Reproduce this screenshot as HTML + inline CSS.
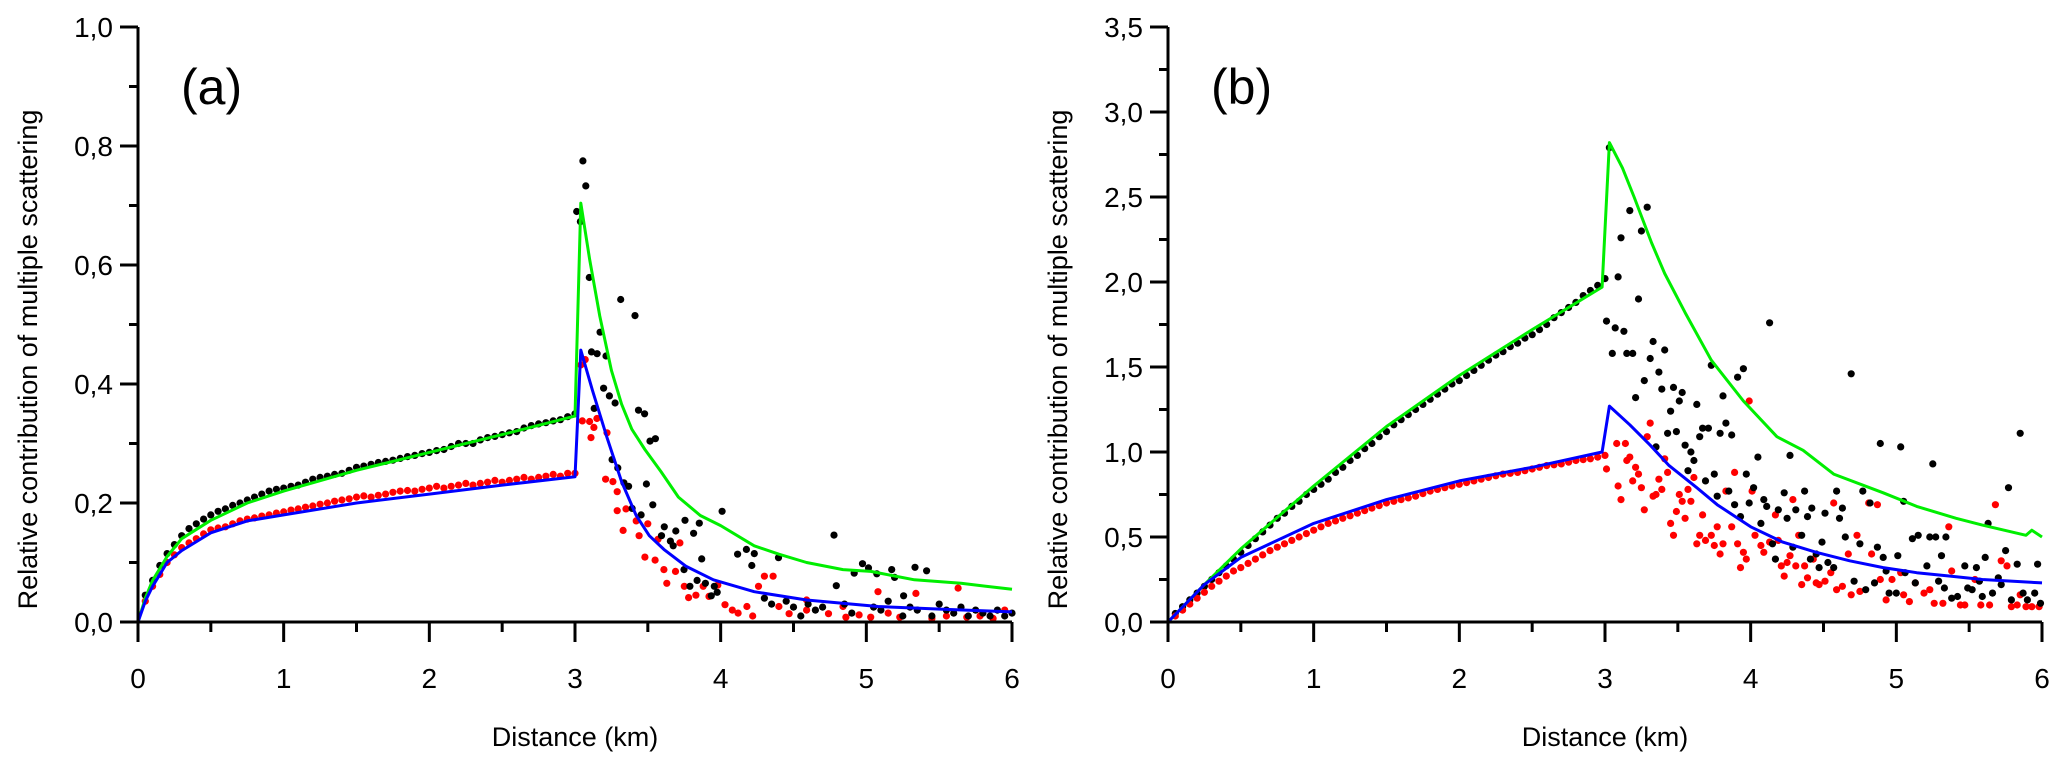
<!DOCTYPE html>
<html><head><meta charset="utf-8"><style>
html,body{margin:0;padding:0;background:#fff;}
svg{display:block;font-family:"Liberation Sans",Arial,sans-serif;}
</style></head><body>
<svg id="chart" width="2067" height="771" viewBox="0 0 2067 771"></svg>
<script>
// ---------- data ----------
const preX = [0.1,0.2,0.3,0.4,0.5,0.6,0.7,0.8,0.9,1.0,1.1,1.2,1.3,1.4,1.5,1.6,1.7,1.8,1.9,2.0,2.1,2.2,2.3,2.4,2.5,2.6,2.7,2.8,2.9,3.0];
const preX2 = [0.05,0.15,0.25,0.35,0.45,0.55,0.65,0.75,0.85,0.95,1.05,1.15,1.25,1.35,1.45,1.55,1.65,1.75,1.85,1.95,2.05,2.15,2.25,2.35,2.45,2.55,2.65,2.75,2.85,2.95];

const aBlackPre = [.07,.115,.145,.165,.18,.19,.2,.21,.22,.225,.23,.24,.245,.25,.26,.265,.27,.275,.28,.285,.29,.3,.3,.31,.315,.32,.33,.335,.34,.35];
const aBlackPre2 = [.045,.095,.13,.157,.173,.186,.196,.205,.215,.223,.228,.235,.243,.248,.255,.262,.268,.272,.278,.283,.288,.295,.3,.306,.312,.318,.326,.333,.338,.345];
const aRedPre = [.06,.1,.125,.14,.155,.16,.17,.175,.18,.185,.19,.195,.2,.205,.21,.21,.215,.22,.22,.225,.225,.23,.23,.235,.235,.24,.24,.245,.245,.25];
const aRedPre2 = [.035,.08,.113,.133,.148,.158,.165,.173,.178,.183,.188,.193,.198,.203,.207,.212,.213,.218,.221,.223,.228,.228,.233,.233,.238,.238,.243,.243,.248,.25];
const aBlackPostX = [3.054,3.074,3.012,3.037,3.098,3.314,3.412,3.172,3.113,3.152,3.213,3.196,3.236,3.275,3.132,3.436,3.478,3.552,3.515,3.255,3.294,3.336,3.368,3.49,3.534,3.392,3.454,3.755,3.853,4.01,4.778,3.613,3.692,3.814,3.594,3.655,3.674,4.231,4.116,3.87,4.397,4.177,4.214,5.015,5.194,5.414,4.917,4.794,5.174,5.334,4.974,5.072,5.256,3.748,3.789,3.838,3.895,3.956,3.976,3.936,
  4.3,4.35,4.45,4.5,4.6,4.65,4.7,4.85,4.9,5.1,5.15,5.3,5.45,5.5,5.55,5.6,5.65,5.7,5.75,5.8,5.85,5.9,5.95,6.0,4.55,5.05,5.25,5.35];
const aBlackPostY = [.775,.733,.69,.673,.579,.542,.515,.487,.454,.451,.447,.393,.38,.368,.359,.356,.35,.308,.304,.273,.259,.234,.228,.232,.197,.191,.18,.171,.166,.186,.146,.16,.153,.149,.145,.136,.128,.115,.114,.106,.108,.122,.095,.091,.075,.086,.082,.061,.088,.092,.098,.081,.044,.088,.06,.07,.065,.06,.05,.044,
  .04,.03,.035,.025,.03,.02,.025,.03,.015,.02,.035,.025,.01,.03,.02,.015,.025,.01,.02,.015,.01,.02,.01,.015,.01,.025,.01,.02];
const aRedPostX = [3.04,3.07,3.05,3.10,3.15,3.11,3.13,3.22,3.21,3.26,3.29,3.29,3.35,3.33,3.42,3.44,3.48,3.50,3.55,3.57,3.61,3.63,3.69,3.72,3.75,3.78,3.83,3.88,3.92,3.98,4.03,4.08,4.18,4.26,4.30,4.36,4.40,4.47,4.59,4.74,4.86,5.08,5.34,5.63,5.03,5.23,5.45,5.69,5.87,5.95,4.59,4.84,4.12,4.22,4.95,5.15,5.55,5.78];
const aRedPostY = [.432,.441,.338,.337,.342,.31,.327,.318,.24,.236,.219,.187,.19,.154,.17,.145,.109,.165,.104,.139,.088,.065,.085,.133,.06,.041,.045,.06,.043,.062,.029,.02,.026,.06,.077,.077,.026,.014,.02,.014,.008,.051,.048,.057,.008,.008,.006,.008,.006,.02,.037,.026,.015,.01,.012,.015,.01,.01];
const aGreenX = [0,0.05,0.1,0.2,0.3,0.5,0.75,1,1.5,2,2.5,3,3.04,3.10,3.17,3.25,3.32,3.39,3.48,3.59,3.71,3.86,4.0,4.23,4.40,4.59,4.84,5.03,5.33,5.65,5.82,6.0];
const aGreenY = [0,0.04,0.07,0.11,0.14,0.171,0.2,0.22,0.255,0.285,0.315,0.346,0.704,0.61,0.514,0.423,0.366,0.324,0.29,0.253,0.21,0.179,0.162,0.128,0.114,0.10,0.088,0.085,0.071,0.065,0.06,0.055];
const aBlueX = [0,0.05,0.1,0.2,0.3,0.5,0.75,1,1.5,2,2.5,3,3.04,3.12,3.22,3.32,3.42,3.51,3.61,3.76,3.95,4.23,4.59,5.08,5.57,6.0];
const aBlueY = [0,0.035,0.06,0.1,0.12,0.15,0.17,0.18,0.2,0.215,0.23,0.244,0.457,0.389,0.31,0.236,0.179,0.145,0.122,0.094,0.071,0.051,0.037,0.026,0.021,0.017];

const bBlackPre = [.09,.17,.25,.33,.41,.49,.57,.64,.71,.78,.84,.91,.98,1.05,1.12,1.19,1.25,1.31,1.37,1.42,1.48,1.54,1.59,1.64,1.69,1.75,1.82,1.88,1.95,2.02];
const bBlackPre2 = [.05,.13,.21,.29,.37,.45,.53,.61,.68,.75,.81,.88,.95,1.02,1.09,1.16,1.22,1.28,1.34,1.4,1.45,1.51,1.57,1.62,1.67,1.72,1.79,1.85,1.92,1.98];
const bRedPre = [.07,.14,.21,.27,.32,.37,.42,.46,.5,.54,.58,.61,.64,.67,.7,.72,.74,.77,.79,.81,.83,.85,.87,.88,.9,.92,.93,.95,.96,.98];
const bRedPre2 = [.035,.105,.175,.24,.3,.345,.395,.44,.48,.52,.56,.595,.625,.655,.685,.71,.73,.755,.78,.8,.82,.84,.86,.875,.89,.91,.925,.94,.955,.97];
const bBlackPostX = [3.03,3.17,3.29,3.11,3.25,3.09,3.23,3.01,3.07,3.13,3.05,3.15,3.19,3.33,3.41,3.31,3.37,3.27,3.39,3.47,3.53,3.21,3.51,3.45,3.63,3.73,3.81,3.91,3.95,4.13,3.43,3.49,3.67,3.71,3.65,3.79,3.83,3.87,3.35,3.55,3.59,3.61,3.57,3.69,3.75,3.77,3.85,3.89,3.93,3.97,4.02,3.99,4.05,4.07,4.09,4.11,4.15,4.19,4.23,4.25,4.27,4.31,4.37,4.39,4.42,4.29,4.17,4.35,4.45,4.49,4.51,4.59,4.63,4.61,4.69,4.65,4.75,4.77,4.82,4.89,4.87,4.91,5.03,5.05,5.01,5.11,5.15,5.23,5.27,5.25,5.31,5.34,5.47,5.55,5.61,5.63,5.75,5.77,5.85,5.83,5.97,
  4.71,4.79,4.85,4.93,4.95,5.0,5.06,5.13,5.21,5.29,5.33,5.38,5.42,5.49,5.52,5.59,5.66,5.72,5.79,5.87,5.90,5.95,5.99,4.47,4.53,4.57,4.41,5.57,5.70];
const bBlackPostY = [2.79,2.42,2.44,2.26,2.30,2.03,1.90,1.77,1.73,1.71,1.58,1.58,1.58,1.65,1.60,1.55,1.47,1.42,1.37,1.38,1.35,1.32,1.30,1.24,1.28,1.51,1.33,1.44,1.49,1.76,1.11,1.12,1.14,1.14,1.09,1.11,1.17,1.10,1.03,1.04,1.00,0.95,0.89,0.83,0.87,0.74,0.77,0.69,0.62,0.87,0.79,0.70,0.97,0.58,0.72,0.68,0.46,0.66,0.76,0.61,0.98,0.66,0.77,0.62,0.67,0.44,0.37,0.51,0.40,0.47,0.64,0.77,0.67,0.61,1.46,0.50,0.46,0.77,0.70,1.05,0.44,0.38,1.03,0.71,0.39,0.49,0.51,0.50,0.50,0.93,0.39,0.50,0.33,0.32,0.38,0.58,0.42,0.79,1.11,0.34,0.34,
  0.24,0.19,0.23,0.30,0.17,0.17,0.29,0.23,0.33,0.24,0.20,0.14,0.15,0.20,0.19,0.15,0.17,0.22,0.13,0.17,0.13,0.17,0.11,0.32,0.35,0.32,0.37,0.24,0.26];
const bRedPostX = [3.08,3.14,3.01,3.09,3.11,3.17,3.15,3.21,3.23,3.19,3.25,3.27,3.31,3.29,3.33,3.35,3.37,3.39,3.41,3.43,3.45,3.47,3.49,3.51,3.53,3.55,3.57,3.59,3.61,3.63,3.65,3.67,3.69,3.73,3.75,3.77,3.79,3.81,3.83,3.87,3.89,3.91,3.93,3.95,3.97,3.99,4.01,4.03,4.07,4.09,4.13,4.17,4.19,4.21,4.23,4.25,4.27,4.29,4.31,4.33,4.35,4.37,4.39,4.43,4.45,4.47,4.51,4.55,4.57,4.59,4.63,4.67,4.69,4.73,4.75,4.81,4.83,4.87,4.89,4.93,4.97,5.03,5.05,5.09,5.13,5.19,5.23,5.26,5.32,5.36,5.38,5.44,5.47,5.54,5.58,5.64,5.68,5.72,5.76,5.79,5.83,5.85,5.89,5.93,5.98];
const bRedPostY = [1.05,1.05,0.90,0.80,0.72,0.97,0.95,0.91,0.87,0.83,0.79,0.66,1.17,1.09,0.74,0.75,0.84,0.78,0.96,0.88,0.58,0.51,0.65,0.75,0.71,0.61,0.78,0.71,0.85,0.46,0.51,0.63,0.48,0.51,0.45,0.56,0.40,0.46,0.77,0.56,0.88,0.46,0.32,0.41,0.37,1.30,0.77,0.51,0.45,0.41,0.47,0.63,0.48,0.33,0.27,0.35,0.39,0.72,0.33,0.51,0.22,0.33,0.26,0.37,0.23,0.22,0.24,0.29,0.70,0.19,0.21,0.40,0.16,0.51,0.18,0.70,0.40,0.69,0.25,0.13,0.25,0.29,0.16,0.12,0.23,0.17,0.19,0.11,0.11,0.56,0.30,0.10,0.10,0.25,0.10,0.10,0.69,0.36,0.33,0.09,0.10,0.16,0.09,0.09,0.09];
const bGreenX = [0,0.25,0.5,1,1.5,2,2.5,2.98,3.03,3.12,3.20,3.32,3.41,3.55,3.73,3.95,4.18,4.36,4.57,4.91,5.14,5.41,5.59,5.89,5.93,6.0];
const bGreenY = [0,0.22,0.43,0.8,1.15,1.45,1.72,1.97,2.82,2.67,2.50,2.23,2.05,1.82,1.54,1.30,1.09,1.01,0.87,0.76,0.68,0.61,0.57,0.51,0.54,0.50];
const bBlueX = [0,0.25,0.5,1,1.5,2,2.5,2.98,3.03,3.17,3.31,3.44,3.63,3.77,4.0,4.22,4.45,4.68,4.91,5.14,5.37,5.59,6.0];
const bBlueY = [0,0.22,0.38,0.58,0.72,0.83,0.91,1.0,1.27,1.16,1.04,0.92,0.79,0.69,0.56,0.47,0.41,0.36,0.32,0.29,0.27,0.25,0.23];

const xTicks = ["0","1","2","3","4","5","6"];
const aYTicks = ["0,0","0,2","0,4","0,6","0,8","1,0"];
const bYTicks = ["0,0","0,5","1,0","1,5","2,0","2,5","3,0","3,5"];

// ---------- drawing ----------
const NS = "http://www.w3.org/2000/svg";
const svg = document.getElementById("chart");
function mk(tag, attrs, parent){
  const e = document.createElementNS(NS, tag);
  for (const k in attrs) e.setAttribute(k, attrs[k]);
  (parent||svg).appendChild(e);
  return e;
}
const Y0 = 622, Y1 = 27;

function panel(key, x0, ymax, yStep, yLabels, label, s){
  const x1 = x0 + 874;
  const sx = v => x0 + (v/6)*(x1-x0);
  const sy = v => Y0 - (v/ymax)*(Y0-Y1);
  const g = mk("g", {});
  
  

  const pts = (xs, ys) => xs.map((x,i)=>sx(x).toFixed(1)+","+sy(ys[i]).toFixed(1)).join(" ");
  function dots(xs, ys, color, name){
    const dg = mk("g", {fill: color}, g);
    
    
    xs.forEach((x,i)=>{
      const c = mk("circle", {cx: sx(x).toFixed(1), cy: sy(ys[i]).toFixed(1), r: 3.6}, dg);
      
      
    });
  }
  dots(s.redPostX, s.redPostY, "#ff0000", "red-dots-post-" + key);
  dots(s.blackPostX, s.blackPostY, "#000", "black-dots-post-" + key);
  dots(preX, s.blackPre, "#000", "black-dots-pre-" + key);
  dots(preX2, s.blackPre2, "#000", "black-dots-pre2-" + key);
  dots(preX, s.redPre, "#ff0000", "red-dots-pre-" + key);
  dots(preX2, s.redPre2, "#ff0000", "red-dots-pre2-" + key);

  const gl = mk("polyline", {points: pts(s.greenX, s.greenY), fill:"none", stroke:"#00ee00", "stroke-width":3, "stroke-linejoin":"round"}, g);
  
  
  const bl = mk("polyline", {points: pts(s.blueX, s.blueY), fill:"none", stroke:"#0000ff", "stroke-width":3, "stroke-linejoin":"round"}, g);
  
  

  const ax = mk("path", {d:`M${x0},${Y1} V${Y0} H${x1}`, fill:"none", stroke:"#000", "stroke-width":3}, g);
  
  
  xTicks.forEach((t,i)=>{
    const x = sx(i);
    mk("line", {x1:x, y1:Y0, x2:x, y2:Y0+20, stroke:"#000", "stroke-width":3}, g);
    if (i<6) mk("line", {x1:sx(i+0.5), y1:Y0, x2:sx(i+0.5), y2:Y0+10, stroke:"#000", "stroke-width":3}, g);
    const tx = mk("text", {x:x, y:Y0+66, "font-size":28, "text-anchor":"middle"}, g);
    tx.textContent = t;
    
    
  });
  yLabels.forEach((t,i)=>{
    const y = sy(i*yStep);
    mk("line", {x1:x0-18, y1:y, x2:x0, y2:y, stroke:"#000", "stroke-width":3}, g);
    if (i<yLabels.length-1) mk("line", {x1:x0-9, y1:sy((i+0.5)*yStep), x2:x0, y2:sy((i+0.5)*yStep), stroke:"#000", "stroke-width":3}, g);
    const ty = mk("text", {x:x0-25, y:y+10, "font-size":28, "text-anchor":"end"}, g);
    ty.textContent = t;
    
    
  });
  const xt = mk("text", {x:(x0+x1)/2, y:746, "font-size":27, "text-anchor":"middle"}, g);
  xt.textContent = "Distance (km)";
  
  
  const yt = mk("text", {x:0, y:0, "font-size":27, "text-anchor":"middle", transform:`translate(${x0-101},${(Y0+Y1)/2+35}) rotate(-90)`}, g);
  yt.textContent = "Relative contribution of multiple scattering";
  
  
  const pl = mk("text", {x:x0+43, y:104, "font-size":50}, g);
  pl.textContent = label;
  
  
}

panel("a", 138, 1.0, 0.2, aYTicks, "(a)", {
  blackPre:aBlackPre, blackPre2:aBlackPre2, redPre:aRedPre, redPre2:aRedPre2,
  blackPostX:aBlackPostX, blackPostY:aBlackPostY, redPostX:aRedPostX, redPostY:aRedPostY,
  greenX:aGreenX, greenY:aGreenY, blueX:aBlueX, blueY:aBlueY});
panel("b", 1168, 3.5, 0.5, bYTicks, "(b)", {
  blackPre:bBlackPre, blackPre2:bBlackPre2, redPre:bRedPre, redPre2:bRedPre2,
  blackPostX:bBlackPostX, blackPostY:bBlackPostY, redPostX:bRedPostX, redPostY:bRedPostY,
  greenX:bGreenX, greenY:bGreenY, blueX:bBlueX, blueY:bBlueY});
</script>
</body></html>
